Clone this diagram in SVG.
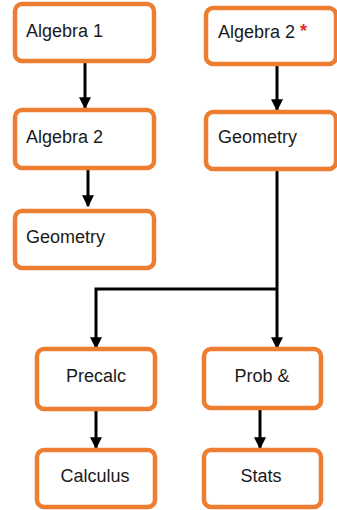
<svg xmlns="http://www.w3.org/2000/svg" width="337" height="510" viewBox="0 0 337 510">
<style>
.box{fill:#fff;stroke:#ED7D31;stroke-width:4.5}
.t{font-family:"Liberation Sans",Arial,sans-serif;font-size:18px;fill:#1a1a1a}
.c{text-anchor:middle}
.ln{fill:none;stroke:#000;stroke-width:3}
</style>
<defs>
<marker id="ah" viewBox="0 0 10 10" refX="9" refY="5" markerWidth="4.2" markerHeight="4" markerUnits="strokeWidth" orient="auto">
<path d="M0,0 L10,5 L0,10 z" fill="#000"/>
</marker>
</defs>
<rect width="337" height="510" fill="#fff"/>
<g id="connectors">
<line class="ln" x1="85" y1="62" x2="85" y2="108" marker-end="url(#ah)"/>
<line class="ln" x1="88" y1="170" x2="88" y2="206" marker-end="url(#ah)"/>
<line class="ln" x1="277" y1="65" x2="277" y2="110" marker-end="url(#ah)"/>
<polyline class="ln" points="277,170 277,348" marker-end="url(#ah)"/>
<polyline class="ln" points="277,289 96,289 96,348" marker-end="url(#ah)"/>
<line class="ln" x1="96" y1="411" x2="96" y2="448" marker-end="url(#ah)"/>
<line class="ln" x1="260" y1="409" x2="260" y2="448" marker-end="url(#ah)"/>
</g>
<g id="n-alg1"><rect class="box" x="15" y="4" width="139" height="57" rx="7"/><text class="t" x="26" y="37">Algebra 1</text></g>
<g id="n-alg2s"><rect class="box" x="206" y="8" width="130" height="56" rx="7"/><text class="t" x="218" y="38">Algebra 2 <tspan fill="#E03030" font-size="18" font-weight="bold" dy="-1">*</tspan></text></g>
<g id="n-alg2"><rect class="box" x="15" y="110" width="139" height="58" rx="7"/><text class="t" x="26" y="143">Algebra 2</text></g>
<g id="n-geo2"><rect class="box" x="206" y="112" width="130" height="57" rx="7"/><text class="t" x="218" y="143">Geometry</text></g>
<g id="n-geo1"><rect class="box" x="15" y="211" width="139" height="57" rx="7"/><text class="t" x="26" y="243">Geometry</text></g>
<g id="n-precalc"><rect class="box" x="37" y="349" width="118" height="60" rx="7"/><text class="t c" x="96" y="382">Precalc</text></g>
<g id="n-prob"><rect class="box" x="204" y="349" width="117" height="59" rx="7"/><text class="t c" x="262" y="382">Prob &amp;</text></g>
<g id="n-calc"><rect class="box" x="37" y="450" width="118" height="57" rx="7"/><text class="t c" x="95" y="482">Calculus</text></g>
<g id="n-stats"><rect class="box" x="204" y="450" width="117" height="57" rx="7"/><text class="t c" x="261" y="482">Stats</text></g>
</svg>
